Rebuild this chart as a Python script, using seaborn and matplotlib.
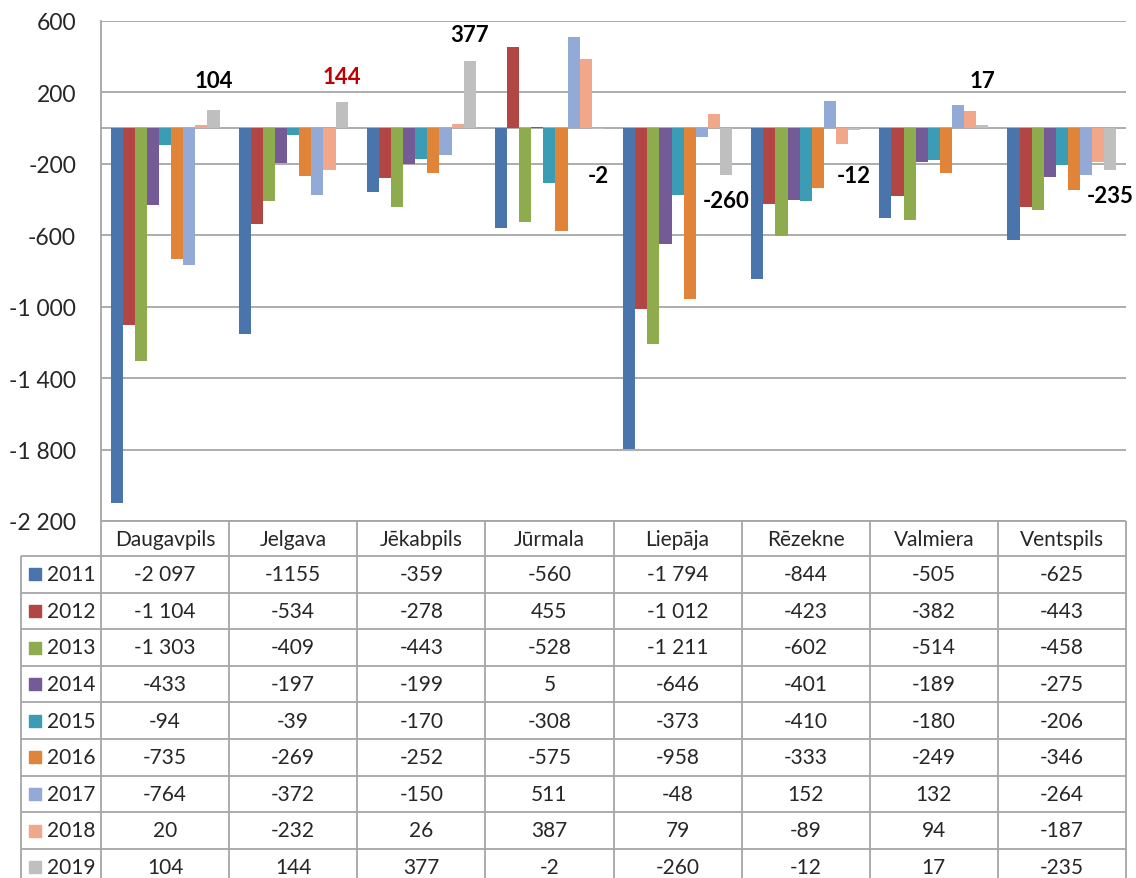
import matplotlib
matplotlib.use("Agg")
import matplotlib.pyplot as plt
import seaborn as sns
import pandas as pd
import numpy as np

sns.set_style("white")
plt.rcParams['font.family'] = ['Lato', 'DejaVu Sans']

cities = ["Daugavpils", "Jelgava", "Jēkabpils", "Jūrmala", "Liepāja", "Rēzekne", "Valmiera", "Ventspils"]
years = ["2011", "2012", "2013", "2014", "2015", "2016", "2017", "2018", "2019"]

v2011 = [-2097, -1155, -359, -560, -1794, -844, -505, -625]
v2012 = [-1104, -534, -278, 455, -1012, -423, -382, -443]
v2013 = [-1303, -409, -443, -528, -1211, -602, -514, -458]
v2014 = [-433, -197, -199, 5, -646, -401, -189, -275]
v2015 = [-94, -39, -170, -308, -373, -410, -180, -206]
v2016 = [-735, -269, -252, -575, -958, -333, -249, -346]
v2017 = [-764, -372, -150, 511, -48, 152, 132, -264]
v2018 = [20, -232, 26, 387, 79, -89, 94, -187]
v2019 = [104, 144, 377, -2, -260, -12, 17, -235]
values = [v2011, v2012, v2013, v2014, v2015, v2016, v2017, v2018, v2019]

colors = ["#4A74AC", "#B24643", "#8EAB4E", "#745A96", "#3B9CB3",
          "#E0843A", "#93AAD6", "#F0A78A", "#BFBFBF"]
label_colors = ["black", "#C00000", "black", "black", "black", "black", "black", "black"]

rows = []
for y, vals in zip(years, values):
    for c, v in zip(cities, vals):
        rows.append({"city": c, "year": y, "value": v})
df = pd.DataFrame(rows)


def fmt(v):
    return f"{int(v):,}".replace(",", " ")


W, H = 1136, 879
fig = plt.figure(figsize=(W / 100, H / 100), dpi=100)
ax = fig.add_axes([101 / W, 1 - 522 / H, 1025 / W, 500 / H])

sns.barplot(data=df, x="city", y="value", hue="year", order=cities, hue_order=years,
            palette=colors, saturation=1, width=0.85, gap=0, errorbar=None,
            legend=False, ax=ax, zorder=3, linewidth=0, edgecolor="none")

grid_c = "#A6A6A6"
ax.set_ylim(-2200, 600)
ax.set_xlim(-0.5, 7.5)
ax.set_yticks(np.arange(-2200, 601, 400))
ax.set_yticklabels([fmt(t) for t in np.arange(-2200, 601, 400)])
ax.yaxis.grid(True, color=grid_c, lw=1.3, zorder=0)
ax.axhline(0, color=grid_c, lw=1.3, zorder=1)
ax.set_xticks([])
ax.set_xlabel("")
ax.set_ylabel("")
ax.tick_params(axis="y", length=0, pad=18, labelsize=16.5)
for s in ["top", "right", "bottom"]:
    ax.spines[s].set_visible(False)
ax.spines["left"].set_color(grid_c)
ax.spines["left"].set_linewidth(1.3)

# data labels for 2019
for bar, v, lc in zip(ax.containers[-1], v2019, label_colors):
    sign = 1 if v >= 0 else -1
    ty = sign * (max(abs(v), 120) + 145)
    ax.text(bar.get_x() + bar.get_width() / 2, ty, str(v), ha="center", va="center",
            fontsize=16, fontweight="bold", color=lc, zorder=5)

# data table
col_w = 1025 / 8
tax = fig.add_axes([21 / W, 0, (1126 - 21) / W, (H - 522) / H])
x_left = -0.5 - 80 / col_w
tax.set_xlim(x_left, 7.5)
tax.set_ylim(H - 522, 0)
tax.axis("off")

head_h = 35
row_h = 36.6
row_tops = [head_h + row_h * i for i in range(len(years) + 1)]
tax.hlines(0, -0.5, 7.5, color=grid_c, lw=1.3, clip_on=False)
tax.hlines(row_tops, x_left, 7.5, color=grid_c, lw=1.3, clip_on=False)
tax.vlines(np.arange(-0.5, 8.0, 1.0), 0, H - 522, color=grid_c, lw=1.3, clip_on=False)
tax.vlines(x_left, head_h, H - 522, color=grid_c, lw=1.3, clip_on=False)

for i, c in enumerate(cities):
    tax.text(i, head_h / 2, c, ha="center", va="center", fontsize=15)

for r, (y, vals, col) in enumerate(zip(years, values, colors)):
    yc = row_tops[r] + row_h / 2
    tax.scatter([x_left + 14 / col_w], [yc], marker="s", s=85, color=col, clip_on=False)
    tax.text(x_left + 26 / col_w, yc, y, ha="left", va="center", fontsize=15)
    for i, v in enumerate(vals):
        txt = fmt(v)
        if y == "2011" and cities[i] == "Jelgava":
            txt = str(v)
        tax.text(i, yc, txt, ha="center", va="center", fontsize=15)

fig.savefig("out.png", dpi=100)
